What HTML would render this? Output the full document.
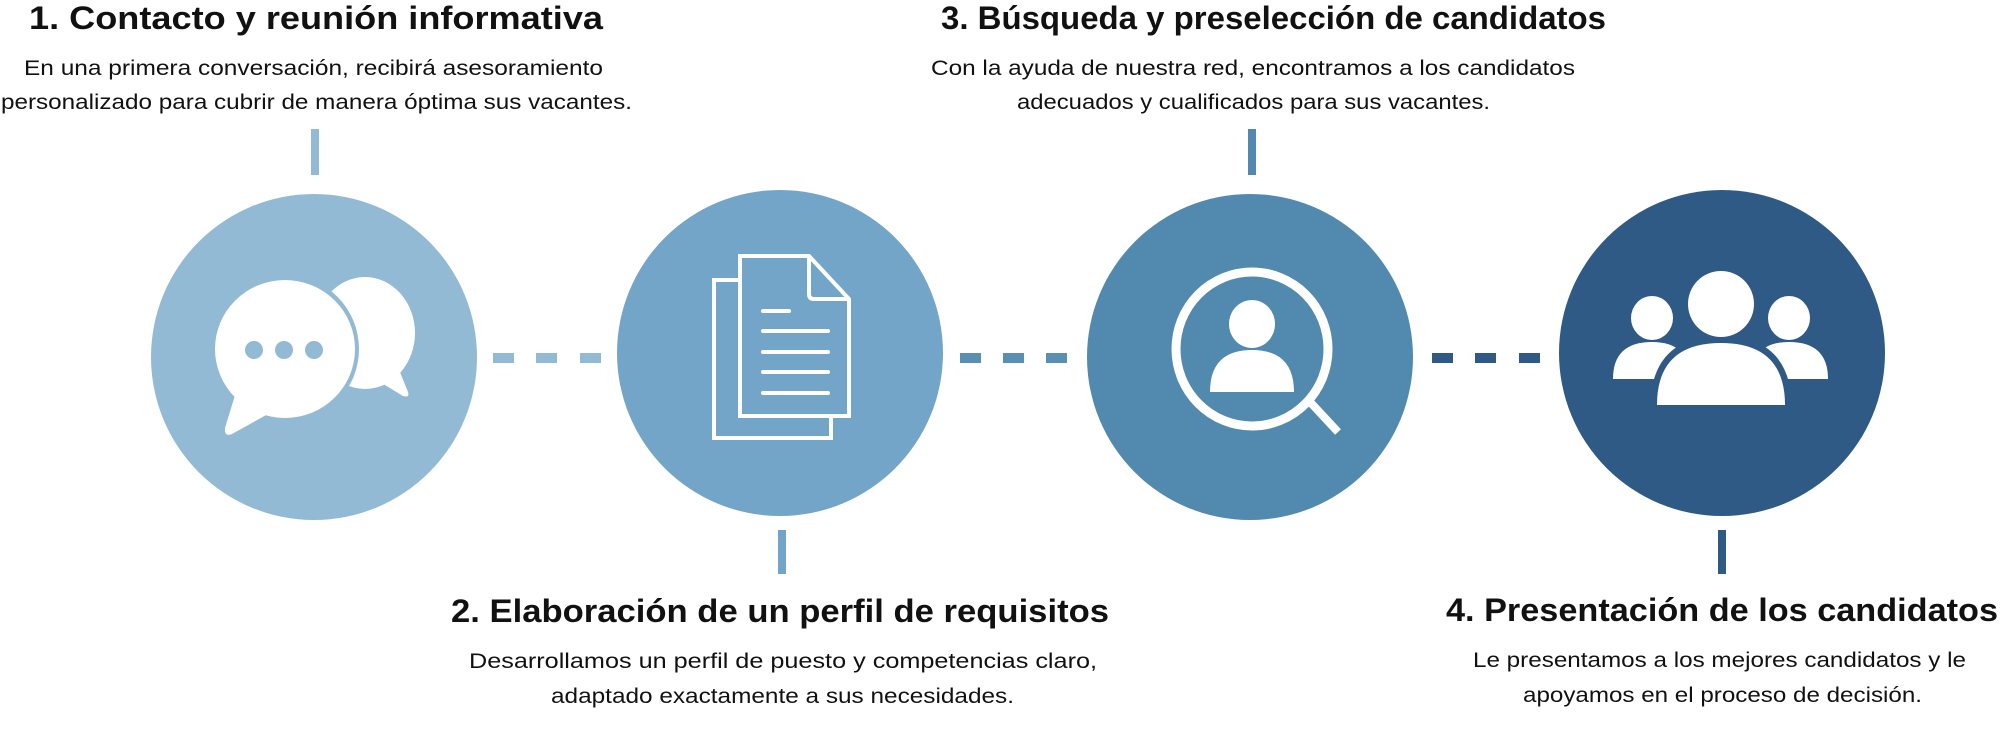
<!DOCTYPE html>
<html><head><meta charset="utf-8"><style>
html,body{margin:0;padding:0;background:#fff;}
svg{display:block}
text{font-family:"Liberation Sans",sans-serif;fill:#111;}
.t{font-weight:bold;font-size:32px;}
.b{font-size:21px;}
</style></head><body>
<svg width="2000" height="744" viewBox="0 0 2000 744">
<text class="t" x="29" y="29" textLength="574" lengthAdjust="spacingAndGlyphs">1. Contacto y reunión informativa</text>
<text class="b" x="24" y="75" textLength="579" lengthAdjust="spacingAndGlyphs">En una primera conversación, recibirá asesoramiento</text>
<text class="b" x="1" y="109" textLength="631" lengthAdjust="spacingAndGlyphs">personalizado para cubrir de manera óptima sus vacantes.</text>

<text class="t" x="941" y="29" textLength="665" lengthAdjust="spacingAndGlyphs">3. Búsqueda y preselección de candidatos</text>
<text class="b" x="931" y="75" textLength="644" lengthAdjust="spacingAndGlyphs">Con la ayuda de nuestra red, encontramos a los candidatos</text>
<text class="b" x="1017" y="109" textLength="473" lengthAdjust="spacingAndGlyphs">adecuados y cualificados para sus vacantes.</text>

<text class="t" x="451" y="622" textLength="658" lengthAdjust="spacingAndGlyphs">2. Elaboración de un perfil de requisitos</text>
<text class="b" x="469" y="668" textLength="628" lengthAdjust="spacingAndGlyphs">Desarrollamos un perfil de puesto y competencias claro,</text>
<text class="b" x="551" y="703" textLength="463" lengthAdjust="spacingAndGlyphs">adaptado exactamente a sus necesidades.</text>

<text class="t" x="1446" y="621" textLength="552" lengthAdjust="spacingAndGlyphs">4. Presentación de los candidatos</text>
<text class="b" x="1473" y="667" textLength="493" lengthAdjust="spacingAndGlyphs">Le presentamos a los mejores candidatos y le</text>
<text class="b" x="1523" y="702" textLength="399" lengthAdjust="spacingAndGlyphs">apoyamos en el proceso de decisión.</text>

<rect x="311" y="129" width="8" height="46" fill="#93bad5"/>
<rect x="778" y="530" width="8" height="44" fill="#73a5c8"/>
<rect x="1248" y="129" width="8" height="46" fill="#528aaf"/>
<rect x="1718" y="530" width="8" height="44" fill="#2e5a85"/>

<g fill="#93bad5"><rect x="493" y="353" width="21" height="10"/><rect x="536" y="353" width="21" height="10"/><rect x="580" y="353" width="21" height="10"/></g>
<g fill="#5a8fb4"><rect x="960" y="353" width="21" height="10"/><rect x="1003" y="353" width="21" height="10"/><rect x="1046" y="353" width="21" height="10"/></g>
<g fill="#2e5a85"><rect x="1432" y="353" width="21" height="10"/><rect x="1475" y="353" width="21" height="10"/><rect x="1519" y="353" width="21" height="10"/></g>

<circle cx="314" cy="357" r="163" fill="#93bad5"/>
<circle cx="780" cy="353" r="163" fill="#73a5c8"/>
<circle cx="1250" cy="357" r="163" fill="#528aaf"/>
<circle cx="1722" cy="353" r="163" fill="#2e5a85"/>

<g fill="#fff">
<ellipse cx="365" cy="333" rx="50" ry="56"/>
<path d="M395 360 L408 392 Q410 398 403 396 L380 382 Z"/>
</g>
<ellipse cx="285" cy="349" rx="74" ry="74" fill="#93bad5"/>
<g fill="#fff">
<ellipse cx="285" cy="349" rx="70" ry="69"/>
<path d="M236 392 L225 428 Q224 437 232 434 L268 414 Z"/>
</g>
<g fill="#93bad5"><circle cx="254" cy="350" r="9"/><circle cx="284" cy="350" r="9"/><circle cx="314" cy="350" r="9"/></g>

<g fill="none" stroke="#fff" stroke-width="4">
<polyline points="738,280 714,280 714,438 831,438 831,418"/>
<path d="M740 256 L809 256 L849 299 L849 416 L740 416 Z"/>
<path d="M809 256 L809 294 Q809 299 814 299 L849 299"/>
</g>
<g stroke="#fff" stroke-width="4" stroke-linecap="round">
<line x1="763" y1="311" x2="789" y2="311"/>
<line x1="763" y1="331" x2="828" y2="331"/>
<line x1="763" y1="352" x2="828" y2="352"/>
<line x1="763" y1="372" x2="828" y2="372"/>
<line x1="763" y1="393" x2="828" y2="393"/>
</g>

<ellipse cx="1252" cy="349" rx="76" ry="77" fill="none" stroke="#fff" stroke-width="9"/>
<line x1="1311" y1="403" x2="1338" y2="432" stroke="#fff" stroke-width="8"/>
<ellipse cx="1252" cy="324" rx="23" ry="24" fill="#fff"/>
<path d="M1210 392 Q1210 350 1252 350 Q1294 350 1294 392 Z" fill="#fff"/>

<g fill="#fff">
<ellipse cx="1652" cy="318" rx="21" ry="22"/>
<ellipse cx="1789" cy="318" rx="21" ry="22"/>
<path d="M1613 379 Q1613 342 1652 342 Q1690 342 1690 379 Z"/>
<path d="M1751 379 Q1751 342 1789 342 Q1828 342 1828 379 Z"/>
</g>
<path d="M1650 410 Q1650 336 1721 336 Q1792 336 1792 410 Z" fill="#2e5a85"/>
<g fill="#fff">
<ellipse cx="1721" cy="304" rx="33" ry="33"/>
<path d="M1657 405 Q1657 343 1721 343 Q1785 343 1785 405 Z"/>
</g>
</svg>
</body></html>
